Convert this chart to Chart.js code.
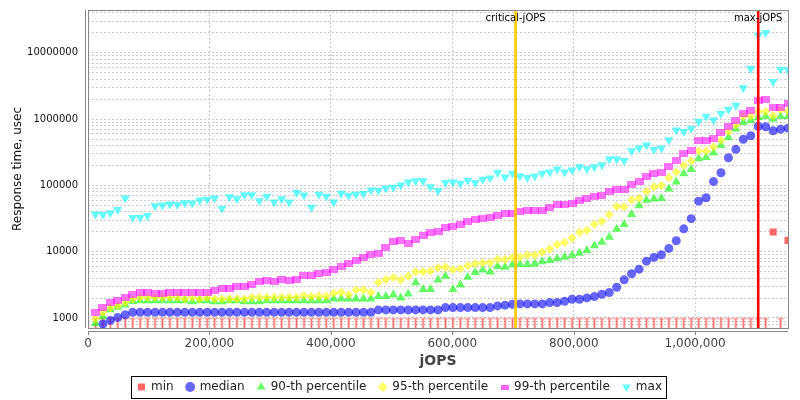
<!DOCTYPE html>
<html>
<head>
<meta charset="utf-8">
<title>Response time vs jOPS</title>
<script src="https://cdn.jsdelivr.net/npm/chart.js@4.4.1/dist/chart.umd.min.js"></script>
<style>
  html, body { margin: 0; padding: 0; background: #fff; }
</style>
</head>
<body>
<canvas id="rtChart" width="800" height="400"></canvas>
<script>
// RT curve points (jOPS on x, response time in usec on y)
const jops = [
  12265, 24530, 36795, 49060, 61325, 73590, 85855, 98120, 110385, 122650,
  134915, 147180, 159445, 171710, 183975, 196240, 208505, 220770, 233035, 245300,
  257565, 269830, 282095, 294360, 306625, 318890, 331155, 343420, 355685, 367950,
  380215, 392480, 404745, 417010, 429275, 441540, 453805, 466070, 478335, 490600,
  502865, 515130, 527395, 539660, 551925, 564190, 576455, 588720, 600985, 613250,
  625515, 637780, 650045, 662310, 674575, 686840, 699105, 711370, 723635, 735900,
  748165, 760430, 772695, 784960, 797225, 809490, 821755, 834020, 846285, 858550,
  870815, 883080, 895345, 907610, 919875, 932140, 944405, 956670, 968935, 981200,
  993465, 1005730, 1017995, 1030260, 1042525, 1054790, 1067055, 1079320, 1091585, 1103850,
  1116115, 1128380, 1140645, 1152910
];

const minRt = [
  1000, 1000, 1000, 1000, 1000, 1000, 1000, 1000, 1000, 1000,
  1000, 1000, 1000, 1000, 1000, 1000, 1000, 1000, 1000, 1000,
  1000, 1000, 1000, 1000, 1000, 1000, 1000, 1000, 1000, 1000,
  1000, 1000, 1000, 1000, 1000, 1000, 1000, 1000, 1000, 1000,
  1000, 1000, 1000, 1000, 1000, 1000, 1000, 1000, 1000, 1000,
  1000, 1000, 1000, 1000, 1000, 1000, 1000, 1000, 1000, 1000,
  1000, 1000, 1000, 1000, 1000, 1000, 1000, 1000, 1000, 1000,
  1000, 1000, 1000, 1000, 1000, 1000, 1000, 1000, 1000, 1000,
  1000, 1000, 1000, 1000, 1000, 1000, 1000, 1000, 1000, 1000,
  1000, 19800, 1000, 14800
];

const medianRt = [
  null, 810, 920, 1020, 1120, 1216, 1216, 1216, 1216, 1216,
  1216, 1216, 1216, 1216, 1216, 1216, 1216, 1216, 1216, 1216,
  1216, 1216, 1216, 1216, 1216, 1216, 1216, 1216, 1216, 1216,
  1216, 1216, 1216, 1216, 1216, 1216, 1216, 1216, 1322, 1322,
  1322, 1322, 1322, 1322, 1322, 1322, 1322, 1433, 1433, 1433,
  1433, 1433, 1433, 1433, 1520, 1560, 1608, 1630, 1630, 1630,
  1630, 1706, 1706, 1785, 1915, 1915, 2010, 2100, 2280, 2420,
  2910, 3760, 4640, 5450, 7200, 8200, 9000, 11200, 14600, 22100,
  31500, 57800, 65000, 114000, 155000, 261000, 350000, 497000, 560000, 775000,
  765000, 665000, 705000, 730000
];

const p90Rt = [
  830, 1050, 1340, 1460, 1575, 1785, 1830, 1830, 1830, 1830,
  1830, 1830, 1830, 1760, 1830, 1830, 1760, 1760, 1830, 1830,
  1760, 1760, 1760, 1830, 1830, 1830, 1830, 1830, 1830, 1830,
  1830, 1830, 1940, 1940, 1940, 1940, 1940, 1940, 2125, 2125,
  2230, 2010, 2310, 3430, 2710, 2710, 3760, 4270, 2710, 3160,
  4120, 4860, 5340, 4980, 5990, 5850, 6350, 6420, 6420, 6580,
  7060, 7380, 7830, 8290, 8800, 9530, 10450, 12300, 14000, 16600,
  22000, 25900, 36700, 49600, 60000, 62900, 64000, 89000, 113000, 151000,
  175000, 253000, 265000, 310000, 400000, 530000, 710000, 890000, 955000, 1060000,
  1100000, 1000000, 1100000, 1100000
];

const p95Rt = [
  965, 1216, 1418, 1536, 1723, 1940, 2050, 2050, 2050, 2050,
  2050, 2050, 1940, 2050, 1940, 2050, 1940, 1940, 1940, 1940,
  1940, 2050, 2050, 2050, 2050, 2050, 2050, 2050, 2180, 2100,
  2130, 2130, 2360, 2440, 2250, 2650, 2650, 2440, 3430, 3800,
  4080, 3760, 4270, 4980, 4980, 5080, 5720, 5850, 5340, 5530,
  6130, 6580, 6800, 6800, 7640, 7640, 8110, 8290, 8890, 8890,
  9870, 10950, 12750, 13830, 16050, 19580, 21000, 25900, 28700, 36300,
  48000, 47300, 60000, 64000, 81000, 95000, 100000, 131000, 159000, 201000,
  234000, 330000, 330000, 380000, 480000, 645000, 810000, 1100000, 1110000, 1300000,
  1300000, 1130000, 1370000, 1300000
];

const p99Rt = [
  1216, 1450, 1723, 1850, 2040, 2240, 2430, 2430, 2320, 2320,
  2430, 2430, 2430, 2430, 2430, 2430, 2560, 2750, 2750, 3010,
  3010, 3250, 3550, 3640, 3550, 3840, 3640, 3840, 4350, 4370,
  4740, 4920, 5450, 5920, 6710, 7380, 8290, 9100, 9320, 11500,
  14340, 14500, 13230, 15500, 17630, 19580, 20060, 23300, 24200, 25400,
  28500, 30600, 31300, 32400, 35600, 37100, 37400, 39800, 41800, 41800,
  42300, 47000, 51500, 51500, 53300, 60000, 62900, 67500, 71000, 80000,
  88000, 88000, 102000, 113000, 135000, 151000, 156000, 196000, 240000, 303000,
  333000, 473000, 473000, 508000, 630000, 775000, 940000, 1200000, 1370000, 1880000,
  1960000, 1500000, 1500000, 1700000
];

const maxRt = [
  36700, 36300, 38500, 43100, 64000, 32700, 32700, 35000, 49000, 50200,
  52000, 51000, 54500, 54000, 60000, 61500, 64000, 45000, 67000, 62500,
  72000, 72000, 58500, 68000, 56000, 62500, 56000, 77500, 71000, 46500,
  73000, 68500, 56000, 75500, 70500, 73000, 75500, 85000, 84000, 91000,
  93000, 101000, 112000, 117000, 117000, 95000, 83000, 110000, 112000, 107000,
  119000, 110000, 123000, 129000, 155000, 133000, 151000, 138000, 131000, 138000,
  151000, 158000, 175000, 158000, 170000, 190000, 177000, 190000, 203000, 248000,
  248000, 236000, 330000, 363000, 405000, 350000, 365000, 485000, 680000, 645000,
  720000, 920000, 1100000, 970000, 1210000, 1400000, 1610000, 2950000, 5750000, 18300000,
  20100000, 3670000, 5640000, 5500000
];

const seriesNames = ["min", "median", "90-th percentile", "95-th percentile", "99-th percentile", "max"];

const markerValues = [704200, 1103850];
const markerLabels = ["critical-jOPS", "max-jOPS"];
const markerColors = ["rgb(255,200,0)", "rgb(255,0,0)"];

const xTickValues = [0, 200000, 400000, 600000, 800000, 1000000];
const xMax = 1152910;
const yMin = 706;
const yMax = 44200000;
const yLabelValues = [1000, 10000, 100000, 1000000, 10000000];
const yDecades = [100, 1000, 10000, 100000, 1000000, 10000000];
const yMinorSteps = [1, 2, 3, 4, 5, 6, 7, 8, 9];

const FONT = "DejaVu Sans";

// little canvases used as point styles
function makeCanvas(w, h, draw) {
  const c = document.createElement("canvas");
  c.width = w;
  c.height = h;
  draw(c.getContext("2d"));
  return c;
}

// min values at the floor are drawn as a "T" hanging from the value
const minTick = makeCanvas(7, 20, (g) => {
  g.fillStyle = "rgba(255,60,60,0.3)";
  g.fillRect(2, 10, 3, 10);
  g.fillRect(0, 9.5, 7, 2);
  g.strokeStyle = "rgba(255,40,40,0.55)";
  g.lineWidth = 1;
  g.beginPath();
  g.moveTo(3.5, 11);
  g.lineTo(3.5, 20);
  g.stroke();
});

const p99Mark = makeCanvas(9, 7, (g) => {
  g.fillStyle = "rgba(255,0,255,0.55)";
  g.fillRect(0, 0, 9, 7);
});

const p99Legend = makeCanvas(8, 5, (g) => {
  g.fillStyle = "rgba(255,0,255,0.6)";
  g.fillRect(0, 0, 8, 5);
});

function toPoints(values) {
  return jops.map((x, i) => ({ x: x, y: values[i] }));
}

const datasets = [
  {
    label: seriesNames[0],
    data: toPoints(minRt),
    order: 6,
    backgroundColor: "rgba(255,0,0,0.6)",
    pointStyle: (c) => (c.raw && c.raw.y > 1000 ? "rect" : minTick),
    pointRadius: 5,
    legendStyle: "rect",
    legendColor: "rgba(255,0,0,0.6)",
  },
  {
    label: seriesNames[1],
    data: toPoints(medianRt),
    order: 5,
    backgroundColor: "rgba(0,0,255,0.6)",
    pointStyle: "circle",
    pointRadius: 4.5,
    legendStyle: "circle",
    legendColor: "rgba(0,0,255,0.6)",
  },
  {
    label: seriesNames[2],
    data: toPoints(p90Rt),
    order: 4,
    backgroundColor: "rgba(0,255,0,0.6)",
    pointStyle: "triangle",
    pointRadius: 5.3,
    legendStyle: "triangle",
    legendColor: "rgba(0,255,0,0.6)",
  },
  {
    label: seriesNames[3],
    data: toPoints(p95Rt),
    order: 3,
    backgroundColor: "rgba(255,255,0,0.6)",
    pointStyle: "rectRot",
    pointRadius: 4.6,
    legendStyle: "rectRot",
    legendColor: "rgba(255,255,0,0.6)",
  },
  {
    label: seriesNames[4],
    data: toPoints(p99Rt),
    order: 2,
    backgroundColor: "rgba(255,0,255,0.6)",
    pointStyle: p99Mark,
    pointRadius: 4.5,
    legendStyle: p99Legend,
    legendColor: "rgba(255,0,255,0.6)",
  },
  {
    label: seriesNames[5],
    data: toPoints(maxRt),
    order: 1,
    backgroundColor: "rgba(0,255,255,0.6)",
    pointStyle: "triangle",
    rotation: 180,
    pointRadius: 5.3,
    legendStyle: "triangle",
    legendRotation: 180,
    legendColor: "rgba(0,255,255,0.6)",
  },
];
datasets.forEach((d) => {
  d.showLine = false;
  d.borderWidth = 0;
  d.borderColor = "rgba(0,0,0,0)";
});

// gridlines for the log axis: 1..9 in every decade
const yGridValues = [];
yDecades.forEach((d) => {
  yMinorSteps.forEach((s) => {
    const v = d * s;
    if (v >= yMin && v <= yMax) yGridValues.push(v);
  });
});

// plot frame, offset axis lines and the two jOPS markers
const framePlugin = {
  id: "frame",
  afterLayout(chart) {
    // centre the legend on the whole canvas, not on the padded area
    if (chart.legend) {
      chart.legend.left += 6;
      chart.legend.right += 6;
    }
  },
  afterDatasetsDraw(chart) {
    const { ctx, chartArea: a, scales } = chart;
    ctx.save();

    markerValues.forEach((v, i) => {
      const px = scales.x.getPixelForValue(v);
      ctx.strokeStyle = markerColors[i];
      ctx.lineWidth = 2.6;
      ctx.beginPath();
      ctx.moveTo(px, a.top);
      ctx.lineTo(px, a.bottom);
      ctx.stroke();
      ctx.fillStyle = "#000";
      ctx.font = "10px '" + FONT + "'";
      ctx.textAlign = "center";
      ctx.textBaseline = "middle";
      ctx.fillText(markerLabels[i], px, a.top + 8);
    });

    ctx.strokeStyle = "#888";
    ctx.lineWidth = 1;
    ctx.strokeRect(Math.round(a.left) + 0.5, Math.round(a.top) + 0.5,
      Math.round(a.right - a.left), Math.round(a.bottom - a.top));

    // separate axis lines just outside the plot
    ctx.beginPath();
    ctx.moveTo(Math.round(a.left) - 2.5, a.top);
    ctx.lineTo(Math.round(a.left) - 2.5, a.bottom);
    ctx.moveTo(a.left, Math.round(a.bottom) + 3.5);
    ctx.lineTo(a.right, Math.round(a.bottom) + 3.5);
    xTickValues.forEach((v) => {
      const px = Math.round(scales.x.getPixelForValue(v)) + 0.5;
      ctx.moveTo(px, Math.round(a.bottom) + 3.5);
      ctx.lineTo(px, Math.round(a.bottom) + 7);
    });
    ctx.stroke();
    ctx.restore();
  },
  afterDraw(chart) {
    const boxes = chart.legend && chart.legend.legendHitBoxes;
    if (!boxes || !boxes.length) return;
    let l = Infinity, r = -Infinity, t = Infinity, b = -Infinity;
    boxes.forEach((h) => {
      l = Math.min(l, h.left);
      r = Math.max(r, h.left + h.width);
      t = Math.min(t, h.top);
      b = Math.max(b, h.top + h.height);
    });
    const ctx = chart.ctx;
    ctx.save();
    ctx.strokeStyle = "#000";
    ctx.lineWidth = 1;
    ctx.strokeRect(Math.round(l - 7) + 0.5, Math.round(t - 5) + 0.5,
      Math.round(r - l + 11), Math.round(b - t + 10));
    ctx.restore();
  },
};

new Chart(document.getElementById("rtChart"), {
  type: "scatter",
  data: { datasets: datasets },
  options: {
    responsive: false,
    animation: false,
    events: [],
    layout: { padding: { top: 10, right: 12, left: 0, bottom: -3 } },
    scales: {
      x: {
        type: "linear",
        min: 0,
        max: xMax,
        afterBuildTicks: (scale) => {
          scale.ticks = xTickValues.map((v) => ({ value: v }));
        },
        afterFit: (scale) => {
          scale.height = 40;
          scale.paddingLeft = 0;
          scale.paddingRight = 0;
        },
        grid: { color: "#cccccc", drawTicks: false, lineWidth: 1 },
        border: { display: false, dash: [2, 2] },
        ticks: {
          padding: 9,
          color: "#444",
          font: { family: FONT, size: 12 },
          maxRotation: 0,
          callback: (v) => Number(v).toLocaleString("en-US"),
        },
        title: {
          display: true,
          text: "jOPS",
          color: "#444",
          font: { family: FONT, size: 14, weight: "bold" },
          padding: { top: 0, bottom: -2 },
        },
      },
      y: {
        type: "logarithmic",
        min: yMin,
        max: yMax,
        afterBuildTicks: (scale) => {
          scale.ticks = yGridValues.map((v) => ({ value: v }));
        },
        afterFit: (scale) => {
          scale.width = 88;
          scale.paddingTop = 0;
          scale.paddingBottom = 0;
        },
        grid: { color: "#cccccc", drawTicks: false, lineWidth: 1 },
        border: { display: false, dash: [2, 2] },
        ticks: {
          autoSkip: false,
          padding: 10,
          color: "#111",
          font: { family: FONT, size: 10 },
          callback: (v) => (yLabelValues.includes(v) ? String(v) : ""),
        },
        title: {
          display: true,
          text: "Response time, usec",
          color: "#111",
          font: { family: FONT, size: 12 },
          padding: { top: 11, bottom: 0 },
        },
      },
    },
    plugins: {
      tooltip: { enabled: false },
      legend: {
        position: "bottom",
        labels: {
          usePointStyle: true,
          boxWidth: 7,
          boxHeight: 7,
          padding: 13,
          color: "#222",
          font: { family: FONT, size: 12 },
          sort: (a, b) => a.datasetIndex - b.datasetIndex,
          generateLabels: (chart) => {
            const items = Chart.defaults.plugins.legend.labels.generateLabels(chart);
            items.forEach((it) => {
              const ds = chart.data.datasets[it.datasetIndex];
              it.pointStyle = ds.legendStyle;
              it.rotation = ds.legendRotation || 0;
              it.fillStyle = ds.legendColor;
              it.strokeStyle = ds.legendColor;
              it.lineWidth = 0;
            });
            return items;
          },
        },
      },
    },
  },
  plugins: [framePlugin],
});
</script>
</body>
</html>
